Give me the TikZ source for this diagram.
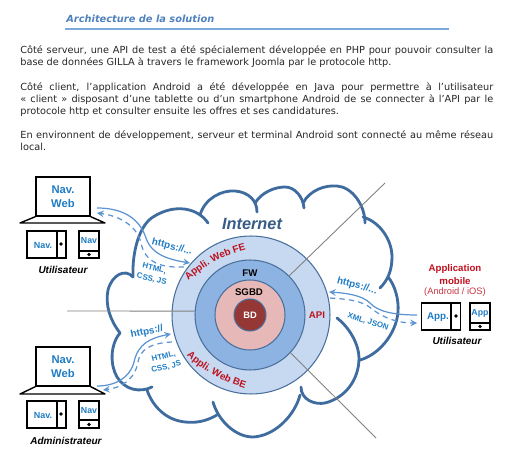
\documentclass[tikz,border=0pt]{standalone}
\usepackage{fontspec}
\setmainfont{Liberation Sans}
\newfontfamily\verdfont{DejaVu Sans}
\usepackage{xcolor}
\usetikzlibrary{decorations.text}
\definecolor{colorCloud}{HTML}{3F6C9F}
\definecolor{colorRing}{HTML}{C6D9F0}
\definecolor{colorFw}{HTML}{8DB3E2}
\definecolor{colorSgbd}{HTML}{E6B9B8}
\definecolor{colorBd}{HTML}{953735}
\definecolor{colorEdge}{HTML}{4A6F9C}
\definecolor{colorBlue}{HTML}{1F7CC4}
\definecolor{colorLink}{HTML}{5B93D3}
\definecolor{colorRed}{HTML}{C0101E}
\definecolor{colorTitle}{HTML}{4F81BD}
\newcommand{\fsz}[1]{\fontsize{#1}{#1}\selectfont}
\tikzset{
    cloudline/.style={draw=colorCloud,line width=1.6pt,line cap=round},
    sepline/.style={draw=gray,line width=0.5pt},
    devbox/.style={draw=black,line width=0.8pt,inner sep=0pt,align=center,text=colorBlue},
    ringnode/.style={circle,draw=colorEdge,line width=0.6pt,inner sep=0pt},
    linkline/.style={draw=colorLink,line width=0.7pt,-stealth},
    linkdash/.style={linkline,dash pattern=on 3pt off 2.4pt},
    blulabel/.style={text=colorBlue,font=\bfseries\fsz{5.6},inner sep=0pt},
    smallabel/.style={text=colorBlue,font=\bfseries\fontsize{4.5}{6.2}\selectfont,inner sep=0pt,align=center},
    usrlabel/.style={font=\bfseries\itshape\fsz{5.7},inner sep=0pt},
    para/.style={font=\verdfont\fontsize{5.55}{7}\selectfont,text width=9.46cm,align=justify,inner sep=0pt,anchor=north west,text=black!85}
}
\begin{document}
\begin{tikzpicture}[x=0.02cm,y=-0.02cm]
    \useasboundingbox (0,0) rectangle (514,462);

    % text on top
    \node[anchor=west,inner sep=0pt,text=colorTitle,font=\verdfont\bfseries\itshape\fsz{5.6}] (title) at (66,19) {Architecture de la solution};
    \draw[draw=colorLink!80,line width=0.6pt] (65,29) -- (449,29);
    \node[para] (parA) at (20,45) {Côté serveur, une API de test a été spécialement développée en PHP pour pouvoir consulter la base de données GILLA à travers le framework Joomla par le protocole http.};
    \node[para] (parB) at (20,82) {Côté client, l’application Android a été développée en Java pour permettre à l’utilisateur\linebreak «~client~» disposant d’une tablette ou d’un smartphone Android de se connecter à l’API par le\linebreak protocole http et consulter ensuite les offres et ses candidatures.};
    \node[para] (parC) at (20,130) {En environnent de développement, serveur et terminal Android sont connecté au même réseau local.};

    % cloud
    \draw[cloudline] (208,223) .. controls (198,208) and (175,203) .. (153,217) .. controls (140,225) and (132,250) .. (133,277);
    \draw[cloudline] (200,215) .. controls (205,198) and (222,190) .. (235,191) .. controls (248,192) and (257,200) .. (257,212);
    \draw[cloudline] (255,203) .. controls (262,192) and (275,187) .. (285,187) .. controls (295,187) and (303,197) .. (304,208);
    \draw[cloudline] (303,203) .. controls (310,190) and (325,185) .. (337,186) .. controls (352,187) and (365,205) .. (365,223);
    \draw[cloudline] (363,217) .. controls (380,222) and (392,240) .. (392,257) .. controls (392,270) and (388,280) .. (380,288);
    \draw[cloudline] (388,277) .. controls (395,285) and (399,300) .. (398,312) .. controls (396,335) and (378,355) .. (360,360);
    \draw[cloudline] (337,318) .. controls (350,328) and (359,345) .. (359,358) .. controls (359,380) and (345,398) .. (325,403) .. controls (315,405) and (301,400) .. (301,387);
    \draw[cloudline] (300,395) .. controls (295,415) and (275,436) .. (253,437) .. controls (235,437) and (218,420) .. (213,402);
    \draw[cloudline] (217,415) .. controls (205,422) and (195,423) .. (185,422) .. controls (165,420) and (152,405) .. (147,390);
    \draw[cloudline] (152,387) .. controls (140,393) and (125,390) .. (117,377) .. controls (110,365) and (110,345) .. (120,333);
    \draw[cloudline] (133,277) .. controls (125,268) and (112,275) .. (108,290) .. controls (105,305) and (110,320) .. (120,333);

    % rings
    \node[ringnode,fill=colorRing,minimum size=3.16cm] (ringApp) at (251,315) {};
    \node[ringnode,fill=colorFw,minimum size=2.2cm] (ringFw) at (250,315) {};
    \node[ringnode,fill=colorSgbd,minimum size=1.4cm] (ringSgbd) at (250,315) {};
    \node[ringnode,fill=colorBd,minimum size=0.64cm,text=white,font=\bfseries\fsz{5.3}] (ringBd) at (250,315) {BD};
    \coordinate (sepLeft) at (67,311);
    \coordinate (sepUp) at (385,183);
    \coordinate (sepDown) at (376,438);
    \draw[sepline] (sepLeft) -- (ringFw.176);
    \draw[sepline] (ringFw.45) -- (sepUp);
    \draw[sepline] (ringFw.-43) -- (sepDown);
    \node[font=\bfseries\fsz{5.5},inner sep=0pt] (lblFw) at (250,273) {FW};
    \node[font=\bfseries\fsz{5.5},inner sep=0pt] (lblSgbd) at (249,292) {SGBD};
    \node[text=colorRed,font=\bfseries\fsz{5.5},inner sep=0pt] (lblApi) at (317,315) {API};
    \path[decorate,decoration={text along path,text align=center,text={|\color{colorRed}\bfseries\fsz{5.6}|Appli. Web FE}}]
        (184,285) .. controls (200,268) and (222,255) .. (252,248);
    \path[decorate,decoration={text along path,text align=center,text={|\color{colorRed}\bfseries\fsz{5.6}|Appli. Web BE}}]
        (183,352) .. controls (198,368) and (222,382) .. (250,390);
    \node[text=colorCloud!85!black,font=\bfseries\itshape\fsz{9.3},inner sep=0pt] (lblNet) at (252,224) {Internet};

    % user, top left
    \node[devbox,minimum width=1.08cm,minimum height=0.78cm,font=\bfseries\fontsize{6.4}{8}\selectfont] (lapU) at (63,196.5) {Nav.\\Web};
    \draw[black,line width=0.8pt,line join=round] (lapU.south west) -- (20,223) -- (105,223) -- (lapU.south east);
    \node[devbox,minimum width=0.78cm,minimum height=0.54cm] (tabU) at (46.5,244.5) {};
    \node[blulabel,font=\bfseries\fsz{5.1}] (tabUtxt) at (43,245) {Nav.};
    \draw[black,line width=0.8pt] (57,231) -- (57,258);
    \fill (61,244) circle (1pt);
    \node[devbox,minimum width=0.4cm,minimum height=0.54cm] (telU) at (89,244.5) {};
    \node[blulabel,font=\bfseries\fsz{5}] (telUtxt) at (89,241) {Nav};
    \draw[black,line width=0.8pt] (79,251) -- (99,251);
    \fill (89,254.5) circle (1pt);
    \node[usrlabel] (lblUser) at (63,270) {Utilisateur};

    % admin, bottom left
    \node[devbox,minimum width=1.08cm,minimum height=0.78cm,font=\bfseries\fontsize{6.4}{8}\selectfont] (lapA) at (63,366.5) {Nav.\\Web};
    \draw[black,line width=0.8pt,line join=round] (lapA.south west) -- (20,394) -- (105,394) -- (lapA.south east);
    \node[devbox,minimum width=0.78cm,minimum height=0.54cm] (tabA) at (46.5,414.5) {};
    \node[blulabel,font=\bfseries\fsz{5.1}] (tabAtxt) at (43,415) {Nav.};
    \draw[black,line width=0.8pt] (57,401) -- (57,428);
    \fill (61,414) circle (1pt);
    \node[devbox,minimum width=0.4cm,minimum height=0.54cm] (telA) at (89,414.5) {};
    \node[blulabel,font=\bfseries\fsz{5}] (telAtxt) at (89,411) {Nav};
    \draw[black,line width=0.8pt] (79,420) -- (99,420);
    \fill (89,424.5) circle (1pt);
    \node[usrlabel] (lblAdmin) at (66,441) {Administrateur};

    % mobile, right
    \node[text=colorRed,font=\bfseries\fsz{5.5},inner sep=0pt] (lblAppl) at (455,269) {Application};
    \node[text=colorRed,font=\bfseries\fsz{5.5},inner sep=0pt] (lblMob) at (455,281) {mobile};
    \node[text=colorRed!85,font=\fsz{5.3},inner sep=0pt] (lblOs) at (455,292) {(Android / iOS)};
    \node[devbox,minimum width=0.78cm,minimum height=0.54cm] (tabM) at (441,316.5) {};
    \node[blulabel] (tabMtxt) at (438,317) {App.};
    \draw[black,line width=0.8pt] (451,303) -- (451,330);
    \fill (456,316) circle (1pt);
    \node[devbox,minimum width=0.4cm,minimum height=0.54cm] (telM) at (480,316.5) {};
    \node[blulabel,font=\bfseries\fsz{5}] (telMtxt) at (480,313) {App};
    \draw[black,line width=0.8pt] (470,323) -- (490,323);
    \fill (480,326.5) circle (1pt);
    \node[usrlabel] (lblMobUser) at (457,341) {Utilisateur};

    % connectors
    \coordinate (uOut) at (97,208);
    \coordinate (uIn) at (190,263);
    \coordinate (uBack) at (97,213);
    \coordinate (uFrom) at (184,267);
    \coordinate (aOut) at (97,386);
    \coordinate (aIn) at (171,334);
    \coordinate (aBack) at (103,390);
    \coordinate (aFrom) at (172,342);
    \coordinate (mOut) at (417,315);
    \coordinate (mIn) at (329,292);
    \coordinate (mBack) at (417,323);
    \coordinate (mFrom) at (330,298);

    \draw[linkline] (uOut) .. controls (125,208) and (140,220) .. (146,238) .. controls (152,256) and (172,260) .. (uIn);
    \draw[linkdash] (uFrom) .. controls (160,268) and (145,262) .. (141,243) .. controls (137,226) and (120,216) .. (uBack);
    \draw[linkline] (aOut) .. controls (115,386) and (130,378) .. (134,362) .. controls (138,344) and (150,338) .. (aIn);
    \draw[linkdash] (aFrom) .. controls (150,343) and (140,350) .. (138,362) .. controls (135,380) and (120,388) .. (aBack);
    \draw[linkline] (mOut) .. controls (395,315) and (378,312) .. (370,303) .. controls (362,295) and (345,293) .. (mIn);
    \draw[linkdash] (mFrom) .. controls (345,299) and (358,300) .. (368,306) .. controls (380,316) and (395,323) .. (mBack);

    % connector labels
    \node[blulabel,rotate=-14] (lblHttpsU) at (172,247) {https://...};
    \node[smallabel,rotate=-14] (lblHtmlU) at (153,274) {HTML,\\CSS, JS};
    \node[blulabel,rotate=12] (lblHttpsA) at (147,332) {https://};
    \node[smallabel,rotate=14] (lblHtmlA) at (165,362) {HTML,\\CSS, JS};
    \node[blulabel,rotate=-15] (lblHttpsM) at (357,286) {https://...};
    \node[smallabel,rotate=-18] (lblXml) at (368,322) {XML, JSON};
\end{tikzpicture}
\end{document}
